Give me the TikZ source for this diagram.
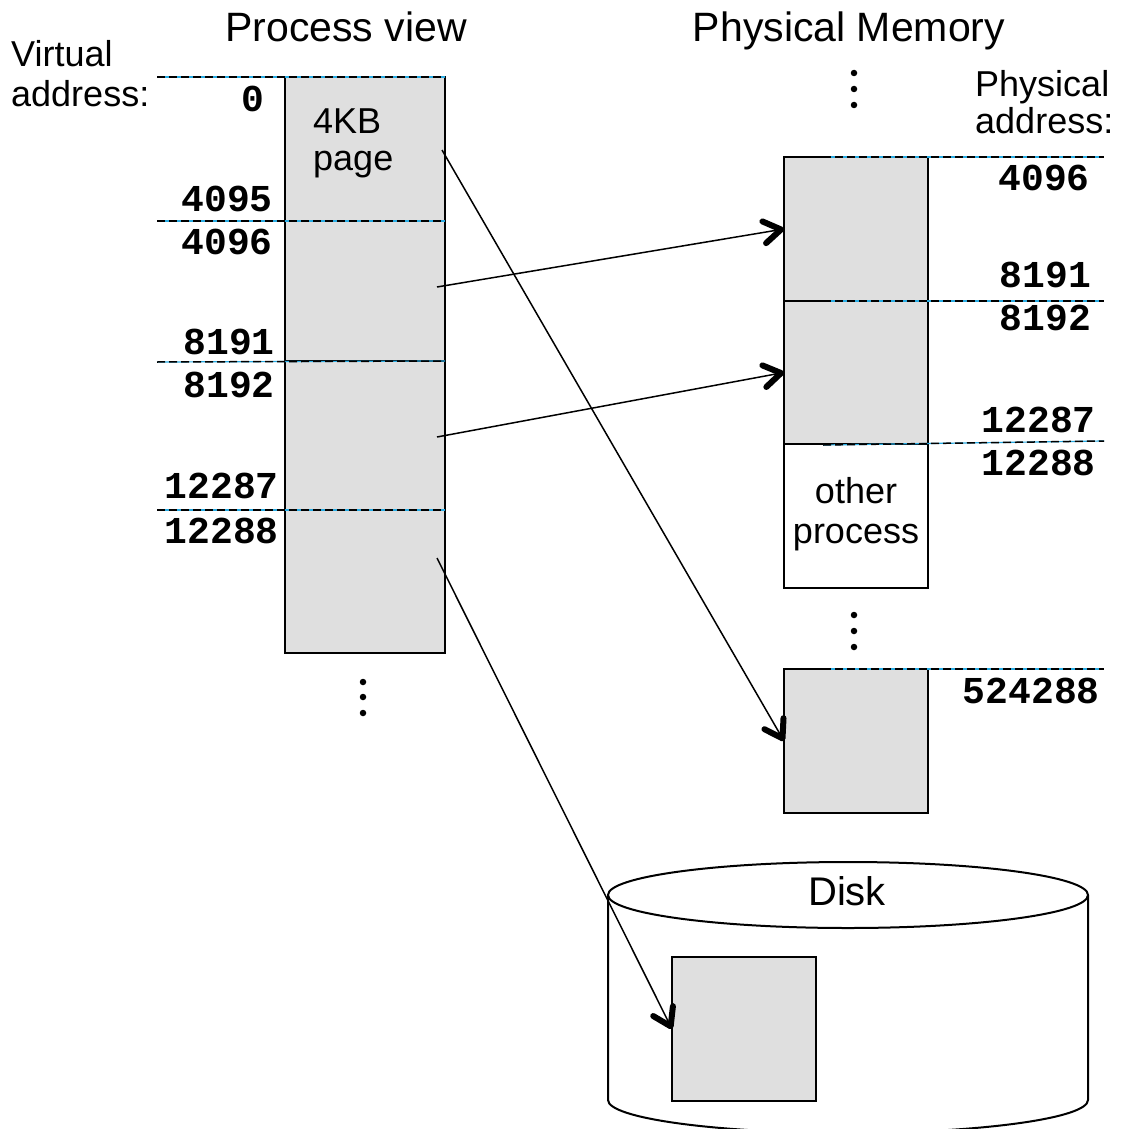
\documentclass[tikz,border=0pt]{standalone}
\usepackage{fontspec}
\setmainfont{Liberation Sans}
\newfontfamily\addrfont{Liberation Mono}
\usetikzlibrary{arrows.meta}
\definecolor{pagefill}{RGB}{223,223,223}
\definecolor{guidecyan}{RGB}{41,171,226}
\begin{document}
\begin{tikzpicture}[x=1pt,y=-1pt,
  vpage/.style={draw, line width=2pt, fill=pagefill, minimum width=160pt,
    anchor=north west, inner sep=0pt, outer sep=0pt},
  ppage/.style={draw, line width=2pt, fill=pagefill, minimum width=144pt,
    minimum height=144pt, anchor=north west, inner sep=0pt, outer sep=0pt},
  guide/.style={line width=1.5pt, dash pattern=on 8pt off 4pt,
    preaction={draw=guidecyan, solid, line width=1.2pt}},
  link/.style={line width=1.5pt,
    -{Straight Barb[length=17pt, width=22pt, line width'=6pt, round]}},
  addr/.style={font=\addrfont\bfseries\fontsize{38}{38}\selectfont,
    anchor=base east, inner sep=0pt},
  txt/.style={font=\fontsize{36}{40}\selectfont, inner sep=0pt},
  title/.style={font=\fontsize{41}{44}\selectfont, inner sep=0pt, anchor=base},
  vdot/.style={fill=black, circle, inner sep=0pt, minimum size=6.5pt}
]
\useasboundingbox (0,0) rectangle (1121,1129);

% titles
\node[title] (tproc) at (346,42) {Process view};
\node[title] (tphys) at (849,42) {Physical Memory};

% virtual pages of the process
\node[vpage, minimum height=144pt] (v0) at (285,77) {};
\node[vpage, minimum height=140pt] (v1) at (285,221) {};
\node[vpage, minimum height=149pt] (v2) at (285,361) {};
\node[vpage, minimum height=143pt] (v3) at (285,510) {};

% physical frames
\node[ppage, minimum height=144pt] (p1) at (784,157) {};
\node[ppage, minimum height=143pt] (p2) at (784,301) {};
\node[ppage, minimum height=144pt, fill=white] (p3) at (784,444) {};
\node[ppage, minimum height=144pt] (p4) at (784,669) {};

% disk
\draw[line width=2pt, fill=white] (608,895) -- (608,1100)
  arc[start angle=180, end angle=0, x radius=240, y radius=33] -- (1088,895);
\draw[line width=2pt, fill=white] (848,895) ellipse [x radius=240, y radius=33];
\node[txt, anchor=base, font=\fontsize{40}{44}\selectfont] (tdisk) at (847,905) {Disk};
\node[ppage] (dpage) at (672,957) {};

% address boundaries
\draw[guide] (157,77) -- (v0.north east);
\draw[guide] (157,221) -- (v1.north east);
\draw[guide] (157,362) -- (v2.north east);
\draw[guide] (157,510) -- (v3.north east);
\draw[guide] (823,157) -- (1104,157);
\draw[guide] (823,301) -- (1104,301);
\draw[guide] (823,445) -- (1104,441);
\draw[guide] (823,669) -- (1104,669);

% left side labels
\node[txt, anchor=base west] (va1) at (11,67) {Virtual};
\node[txt, anchor=base west] (va2) at (11,107) {address:};
\node[addr] (a0) at (265,112) {0};
\node[addr] (a4095) at (273,211) {4095};
\node[addr] (a4096) at (273,254) {4096};
\node[addr] (a8191) at (275,354) {8191};
\node[addr] (a8192) at (275,397) {8192};
\node[addr] (a12287) at (279,498) {12287};
\node[addr] (a12288) at (279,543) {12288};

\node[txt, anchor=base west] (kb1) at (313,133) {4KB};
\node[txt, anchor=base west] (kb2) at (313,170) {page};

% right side labels
\node[txt, anchor=base west] (pa1) at (975,97) {Physical};
\node[txt, anchor=base west] (pa2) at (975,133) {address:};
\node[addr] (b4096) at (1090,190) {4096};
\node[addr] (b8191) at (1091,287) {8191};
\node[addr] (b8192) at (1091,330) {8192};
\node[addr] (b12287) at (1096,432) {12287};
\node[addr] (b12288) at (1096,475) {12288};
\node[addr] (b524288) at (1100,703) {524288};

\node[txt, anchor=base] (op1) at (856,503) {other};
\node[txt, anchor=base] (op2) at (856,543) {process};

% ellipsis dots
\foreach \y [count=\i] in {682,697,713} \node[vdot] (dv\i) at (363,\y) {};
\foreach \y [count=\i] in {73,89,105} \node[vdot] (dt\i) at (854,\y) {};
\foreach \y [count=\i] in {615,631,647} \node[vdot] (dm\i) at (854,\y) {};

% page mappings
\coordinate (s0) at (442,150);
\coordinate (s1) at (437,287);
\coordinate (s2) at (437,437);
\coordinate (s3) at (437,558);
\draw[link] (s1) -- (p1.west);
\draw[link] (s2) -- (p2.west);
\draw[link] (s0) -- (p4.west);
\draw[link] (s3) -- (dpage.west);
\end{tikzpicture}
\end{document}
